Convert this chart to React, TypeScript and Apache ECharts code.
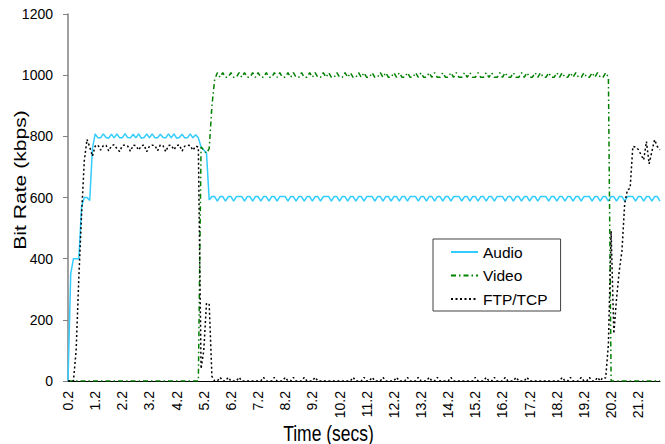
import React, { useEffect, useRef } from "react";
import * as echarts from "echarts";

// Sampled every 0.1 s starting at 0.2 s
const AUDIO: number[] = [
  0, 350, 400, 400, 400, 570, 600, 600, 590, 760,
  808, 795, 795, 808, 796, 794, 807, 795, 808, 795,
  795, 809, 796, 795, 807, 795, 808, 794, 796, 808,
  795, 808, 795, 795, 807, 796, 795, 808, 795, 808,
  794, 796, 807, 795, 795, 808, 795, 805, 795, 765,
  755, 745, 592, 603, 603, 588, 603, 603, 588, 603,
  603, 588, 603, 603, 603, 588, 603, 603, 588, 603,
  603, 588, 603, 603, 588, 603, 603, 588, 603, 603,
  603, 588, 603, 603, 588, 603, 603, 588, 603, 603,
  588, 603, 603, 588, 603, 603, 603, 588, 603, 603,
  588, 603, 603, 588, 603, 603, 588, 603, 603, 588,
  603, 603, 603, 588, 603, 603, 588, 603, 603, 588,
  603, 603, 588, 603, 603, 588, 603, 603, 603, 588,
  603, 603, 588, 603, 603, 588, 603, 603, 588, 603,
  603, 588, 603, 603, 603, 588, 603, 603, 588, 603,
  603, 588, 603, 603, 588, 603, 603, 588, 603, 603,
  603, 588, 603, 603, 588, 603, 603, 588, 603, 603,
  588, 603, 603, 588, 603, 603, 603, 588, 603, 603,
  588, 603, 603, 588, 603, 603, 588, 603, 603, 588,
  603, 603, 603, 588, 603, 603, 588, 603, 603, 588,
  603, 603, 588, 603, 603, 588, 603, 603, 603, 588,
  603, 603, 588, 603, 603, 588, 603, 603, 588,
];

const VIDEO: number[] = [
  0, 0, 0, 0, 0, 0, 0, 0, 0, 0,
  0, 0, 0, 0, 0, 0, 0, 0, 0, 0,
  0, 0, 0, 0, 0, 0, 0, 0, 0, 0,
  0, 0, 0, 0, 0, 0, 0, 0, 0, 0,
  0, 0, 0, 0, 0, 0, 0, 0, 0, 765,
  755, 745, 760, 900, 985, 1008, 993, 1008, 993, 993,
  1008, 993, 993, 1008, 993, 1008, 993, 993, 1008, 993,
  1008, 993, 993, 1008, 993, 993, 1008, 993, 1008, 993,
  993, 1008, 993, 1008, 993, 993, 1008, 993, 993, 1008,
  993, 1008, 993, 993, 1008, 993, 1008, 993, 993, 1008,
  993, 993, 1008, 993, 1008, 993, 993, 1008, 993, 1008,
  993, 993, 1008, 993, 993, 1008, 993, 1008, 993, 993,
  1008, 993, 1008, 993, 993, 1008, 993, 993, 1008, 993,
  1008, 993, 993, 1008, 993, 1008, 993, 993, 1008, 993,
  993, 1008, 993, 1008, 993, 993, 1008, 993, 1008, 993,
  993, 1008, 993, 993, 1008, 993, 1008, 993, 993, 1008,
  993, 1008, 993, 993, 1008, 993, 993, 1008, 993, 1008,
  993, 993, 1008, 993, 1008, 993, 993, 1008, 993, 993,
  1008, 993, 1008, 993, 993, 1008, 993, 1008, 993, 993,
  1008, 993, 993, 1008, 993, 1008, 993, 993, 1008, 993,
  0, 0, 0, 0, 0, 0, 0, 0, 0, 0,
  0, 0, 0, 0, 0, 0, 0, 0, 0,
];

const FTP_TCP: number[] = [
  0, 0, 0, 100, 340, 545, 720, 790, 765, 735,
  768, 772, 755, 770, 771, 752, 769, 773, 760, 750,
  770, 772, 768, 751, 771, 770, 755, 769, 772, 750,
  768, 771, 770, 753, 772, 769, 750, 770, 771, 756,
  770, 772, 752, 768, 771, 770, 754, 768, 765, 40,
  100, 255, 250, 15, 0, 0, 12, 0, 0, 12,
  0, 0, 0, 12, 0, 0, 0, 0, 0, 0,
  0, 0, 12, 0, 0, 0, 12, 0, 0, 0,
  12, 0, 0, 12, 0, 0, 0, 12, 0, 0,
  0, 12, 0, 0, 0, 0, 0, 0, 0, 0,
  0, 0, 0, 0, 0, 12, 0, 0, 0, 12,
  0, 0, 12, 0, 0, 0, 12, 0, 0, 0,
  0, 12, 0, 0, 0, 12, 0, 0, 0, 12,
  0, 0, 0, 12, 0, 0, 12, 0, 0, 0,
  0, 12, 0, 0, 0, 0, 0, 0, 0, 0,
  12, 0, 0, 0, 12, 0, 0, 12, 0, 0,
  0, 12, 0, 0, 0, 12, 0, 0, 0, 12,
  0, 0, 0, 0, 0, 0, 0, 0, 0, 0,
  0, 0, 12, 0, 0, 12, 0, 0, 0, 12,
  0, 0, 12, 0, 0, 12, 0, 12, 10, 120,
  490, 155, 270, 360, 427, 580, 625, 630, 767, 765,
  757, 740, 723, 783, 710, 750, 789, 767, 756,
];

const TIME_START = 0.2;
const TIME_STEP = 0.1;
const TIME_SECS: string[] = AUDIO.map((_, i) => (TIME_START + i * TIME_STEP).toFixed(1));

const Y_MIN = 0;
const Y_MAX = 1200;
const Y_STEP = 200;

const SERIES_NAMES = ["Audio", "Video", "FTP/TCP"];
const X_TITLE = "Time (secs)";
const Y_TITLE = "Bit Rate (kbps)";

const FONT = '"Liberation Sans", Arial, Helvetica, sans-serif';

export default function App() {
  const ref = useRef<HTMLDivElement>(null);

  useEffect(() => {
    if (!ref.current) return;
    const chart = echarts.init(ref.current, undefined, { renderer: "svg" });
    chart.setOption({
      animation: false,
      backgroundColor: "#ffffff",
      textStyle: { fontFamily: FONT },
      grid: { left: 68, right: 5, top: 14, bottom: 63, containLabel: false },
      xAxis: {
        type: "category",
        data: TIME_SECS,
        boundaryGap: false,
        axisLine: { show: true, lineStyle: { color: "#000", width: 1 } },
        axisTick: { show: false },
        axisLabel: {
          interval: 9,
          rotate: 90,
          margin: 10,
          fontSize: 14,
          color: "#000",
          fontFamily: FONT,
        },
        splitLine: { show: false },
      },
      yAxis: {
        type: "value",
        min: Y_MIN,
        max: Y_MAX,
        interval: Y_STEP,
        axisLine: { show: true, lineStyle: { color: "#808080", width: 1.5 } },
        axisTick: { show: true, length: 5, lineStyle: { color: "#808080", width: 1 } },
        axisLabel: {
          margin: 15,
          fontSize: 14,
          color: "#000",
          fontFamily: FONT,
          formatter: (v: number) => String(v),
        },
        splitLine: { show: false },
      },
      legend: {
        data: SERIES_NAMES,
        orient: "vertical",
        left: 433,
        top: 239,
        backgroundColor: "#fff",
        borderColor: "#404040",
        borderWidth: 1,
        padding: [5, 13, 4, 17],
        itemWidth: 27,
        itemHeight: 16,
        itemGap: 7.5,
        selectedMode: false,
        itemStyle: { opacity: 0 },
        textStyle: { fontSize: 15.5, color: "#000", fontFamily: FONT, lineHeight: 16 },
      },
      graphic: [
        {
          type: "text",
          x: 328.5,
          y: 433,
          scaleY: 1.25,
          style: {
            text: X_TITLE,
            fontSize: 17.5,
            fontFamily: FONT,
            fill: "#000",
            align: "center",
            verticalAlign: "middle",
            textAlign: "center",
            textVerticalAlign: "middle",
          },
        },
        {
          type: "text",
          x: 20.5,
          y: 180,
          rotation: Math.PI / 2,
          scaleX: 1.28,
          style: {
            text: Y_TITLE,
            fontSize: 16.5,
            fontFamily: FONT,
            fill: "#000",
            align: "center",
            verticalAlign: "middle",
            textAlign: "center",
            textVerticalAlign: "middle",
          },
        },
      ],
      series: [
        {
          name: SERIES_NAMES[0],
          type: "line",
          data: AUDIO,
          symbol: "none",
          silent: true,
          itemStyle: { color: "#33CCFF" },
          lineStyle: { color: "#33CCFF", width: 1.5 },
        },
        {
          name: SERIES_NAMES[1],
          type: "line",
          data: VIDEO,
          symbol: "none",
          silent: true,
          itemStyle: { color: "#008000" },
          lineStyle: { color: "#008000", width: 1.5, type: [5, 3, 1.5, 3] },
        },
        {
          name: SERIES_NAMES[2],
          type: "line",
          data: FTP_TCP,
          symbol: "none",
          silent: true,
          itemStyle: { color: "#000" },
          lineStyle: { color: "#000", width: 1.5, type: [2, 2.5] },
        },
      ],
    });
    return () => chart.dispose();
  }, []);

  return (
    <div
      ref={ref}
      style={{ position: "fixed", left: 0, top: 0, width: 665, height: 444 }}
    />
  );
}
